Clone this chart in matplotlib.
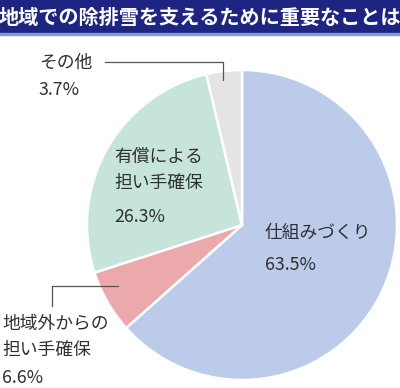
import matplotlib.pyplot as plt
from matplotlib.patches import Rectangle
from matplotlib.lines import Line2D

plt.rcParams['font.family'] = ['Noto Sans CJK JP', 'DejaVu Sans']

title = "地域での除排雪を支えるために重要なことは"
labels = ["仕組みづくり", "地域外からの\n担い手確保", "有償による\n担い手確保", "その他"]
values = [63.5, 6.6, 26.3, 3.7]
colors = ["#bccbea", "#eba9ac", "#c6e3dc", "#e4e4e4"]

W, H = 400, 388
fig = plt.figure(figsize=(W / 100, H / 100), dpi=100)

def fx(x):
    return x / W

def fy(y):
    return 1 - y / H

# title bar
fig.patches.append(Rectangle((0, fy(33)), 1, 33 / H, transform=fig.transFigure,
                             color="#1d2482", zorder=0))
fig.patches.append(Rectangle((0, fy(35)), 1, 2 / H, transform=fig.transFigure,
                             color="#7f9bd6", zorder=0))
fig.text(0.5, fy(17), title, color="white", fontsize=14.5, fontweight="bold",
         ha="center", va="center")

# pie
cx, cy, r = 242, 225, 155
ax = fig.add_axes([fx(cx - r), fy(cy + r), 2 * r / W, 2 * r / H])
ax.pie(values, colors=colors, startangle=90, counterclock=False,
       wedgeprops=dict(edgecolor="white", linewidth=1.8))
ax.set_xlim(-1, 1)
ax.set_ylim(-1, 1)
ax.set_aspect("auto")
ax.axis("off")

txt = dict(color="#303030", fontsize=12.8, va="center", ha="left", linespacing=1.55)

fig.text(fx(265), fy(233), labels[0], **txt)
fig.text(fx(265), fy(265), f"{values[0]}%", **txt)

fig.text(fx(114), fy(170), labels[2], **txt)
fig.text(fx(114), fy(217), f"{values[2]}%", **txt)

fig.text(fx(39), fy(63), labels[3], **txt)
fig.text(fx(39), fy(90), f"{values[3]}%", **txt)

fig.text(fx(2), fy(337), labels[1], **txt)
fig.text(fx(2), fy(378), f"{values[1]}%", **txt)

# leader lines
lc = "#555555"
fig.lines.append(Line2D([fx(105), fx(223), fx(223)], [fy(62), fy(62), fy(80)],
                        transform=fig.transFigure, color=lc, lw=0.9))
fig.lines.append(Line2D([fx(52), fx(52), fx(118)], [fy(306), fy(286), fy(286)],
                        transform=fig.transFigure, color=lc, lw=0.9))

fig.savefig("out.png", dpi=100, facecolor="white")
